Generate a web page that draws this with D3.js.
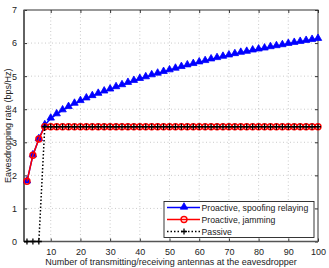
<!DOCTYPE html>
<html><head><meta charset="utf-8">
<script src="https://cdn.jsdelivr.net/npm/d3@7"></script>
<style>body{margin:0;background:#fff}svg{display:block}text{font-family:"Liberation Sans",Arial,sans-serif}</style>
</head><body>
<script>
const antennas = [2,4,6,8,10,12,14,16,18,20,22,24,26,28,30,32,34,36,38,40,42,44,46,48,50,52,54,56,58,60,62,64,66,68,70,72,74,76,78,80,82,84,86,88,90,92,94,96,98,100];
const spoofing = [1.82,2.61,3.10,3.52,3.72,3.85,3.97,4.07,4.17,4.25,4.33,4.40,4.47,4.54,4.60,4.67,4.73,4.80,4.86,4.92,4.97,5.03,5.08,5.13,5.18,5.23,5.28,5.33,5.37,5.42,5.46,5.51,5.55,5.59,5.63,5.67,5.71,5.74,5.78,5.81,5.84,5.88,5.91,5.94,5.98,6.01,6.04,6.07,6.10,6.13];
const jamming = [1.82,2.61,3.10,3.47,3.47,3.47,3.47,3.47,3.47,3.47,3.47,3.47,3.47,3.47,3.47,3.47,3.47,3.47,3.47,3.47,3.47,3.47,3.47,3.47,3.47,3.47,3.47,3.47,3.47,3.47,3.47,3.47,3.47,3.47,3.47,3.47,3.47,3.47,3.47,3.47,3.47,3.47,3.47,3.47,3.47,3.47,3.47,3.47,3.47,3.47];
const passive = [0,0,0,3.47,3.47,3.47,3.47,3.47,3.47,3.47,3.47,3.47,3.47,3.47,3.47,3.47,3.47,3.47,3.47,3.47,3.47,3.47,3.47,3.47,3.47,3.47,3.47,3.47,3.47,3.47,3.47,3.47,3.47,3.47,3.47,3.47,3.47,3.47,3.47,3.47,3.47,3.47,3.47,3.47,3.47,3.47,3.47,3.47,3.47,3.47];
const xTicks = [10,20,30,40,50,60,70,80,90,100];
const yTicks = [0,1,2,3,4,5,6,7];
const legendLabels = ["Proactive, spoofing relaying","Proactive, jamming","Passive"];
const xLabel = "Number of transmitting/receiving antennas at the eavesdropper";
const yLabel = "Eavesdropping rate (bps/Hz)";

const W=329,H=268, L=24, R=318, T=10, B=241.5;
const FS="9px";
const svg=d3.select("body").append("svg").attr("width",W).attr("height",H);
const x=d3.scaleLinear().domain([1,100]).range([L,R]);
const y=d3.scaleLinear().domain([0,7]).range([B,T]);

// grid
const g=svg.append("g");
g.selectAll(".gx").data(xTicks.filter(v=>v<100)).join("line")
 .attr("x1",d=>x(d)).attr("x2",d=>x(d)).attr("y1",T).attr("y2",B)
 .attr("stroke","#bdbdbd").attr("stroke-width",0.8).attr("stroke-dasharray","1,2.5");
g.selectAll(".gy").data(yTicks.filter(v=>v>0&&v<7)).join("line")
 .attr("x1",L).attr("x2",R).attr("y1",d=>y(d)).attr("y2",d=>y(d))
 .attr("stroke","#bdbdbd").attr("stroke-width",0.8).attr("stroke-dasharray","1,2.5");

// axes
const fmt=d3.format("d");
const xb=d3.axisBottom(x).tickValues(xTicks).tickFormat(fmt).tickSizeInner(-3).tickSizeOuter(0).tickPadding(7);
const xt=d3.axisTop(x).tickValues(xTicks).tickSizeInner(-3).tickSizeOuter(0).tickFormat("");
const yl=d3.axisLeft(y).tickValues(yTicks).tickFormat(fmt).tickSizeInner(-3).tickSizeOuter(0).tickPadding(7);
const yr=d3.axisRight(y).tickValues(yTicks).tickSizeInner(-3).tickSizeOuter(0).tickFormat("");
function style(sel){sel.selectAll("path").remove();sel.selectAll("line").attr("stroke","#333");sel.selectAll("text").attr("font-size",FS).attr("fill","#222").attr("font-family","'Liberation Sans',Arial,sans-serif");}
svg.append("g").attr("transform",`translate(0,${B})`).call(xb).call(style);
svg.append("g").attr("transform",`translate(0,${T})`).call(xt).call(style);
svg.append("g").attr("transform",`translate(${L},0)`).call(yl).call(style);
svg.append("g").attr("transform",`translate(${R},0)`).call(yr).call(style);
svg.append("rect").attr("x",L).attr("y",T).attr("width",R-L).attr("height",B-T).attr("fill","none").attr("stroke","#333").attr("stroke-width",1);
svg.append("line").attr("x1",L).attr("x2",L).attr("y1",T).attr("y2",B).attr("stroke","#555").attr("stroke-width",1.6);
svg.append("line").attr("x1",L).attr("x2",R).attr("y1",B).attr("y2",B).attr("stroke","#555").attr("stroke-width",1.6);

const line=d3.line().x(d=>x(d[0])).y(d=>y(d[1]));
const tri=d3.symbol().type(d3.symbolTriangle).size(24);
function plusPath(cx,cy,s){return `M${cx-s},${cy}H${cx+s}M${cx},${cy-s}V${cy+s}`;}

// spoofing
const sData=antennas.map((a,i)=>[a,spoofing[i]]);
svg.append("path").attr("d",line(sData)).attr("fill","none").attr("stroke","#0000ff").attr("stroke-width",1.5);
svg.append("g").selectAll("path").data(sData).join("path")
 .attr("transform",d=>`translate(${x(d[0])},${y(d[1])-0.5})`).attr("d",tri())
 .attr("fill","#0000ff").attr("stroke","#0000ff").attr("stroke-width",0.8);
// jamming
const jData=antennas.map((a,i)=>[a,jamming[i]]);
svg.append("path").attr("d",line(jData)).attr("fill","none").attr("stroke","#ff0000").attr("stroke-width",1.5);
svg.append("g").selectAll("circle").data(jData).join("circle")
 .attr("cx",d=>x(d[0])).attr("cy",d=>y(d[1])).attr("r",3)
 .attr("fill","none").attr("stroke","#ff0000").attr("stroke-width",1.4);
// passive
const pData=antennas.map((a,i)=>[a,passive[i]]);
svg.append("path").attr("d",line(pData)).attr("fill","none").attr("stroke","#000").attr("stroke-width",1.5).attr("stroke-dasharray","1.5,2");
svg.append("g").selectAll("path").data(pData).join("path")
 .attr("d",d=>plusPath(x(d[0]),y(d[1]),3)).attr("stroke","#000").attr("stroke-width",1.3).attr("fill","none");

// labels
svg.append("text").attr("x",(L+R)/2).attr("y",265).attr("text-anchor","middle").attr("font-size",FS).attr("fill","#222").text(xLabel);
svg.append("text").attr("transform",`translate(8,${(T+B)/2}) rotate(-90)`).attr("text-anchor","middle").attr("dominant-baseline","central").attr("font-size",FS).attr("fill","#222").text(yLabel);

// legend
const lg=svg.append("g");
lg.append("rect").attr("x",164).attr("y",201.5).attr("width",150).attr("height",36).attr("fill","#fff").attr("stroke","#222").attr("stroke-width",0.9);
const rows=[207.5,219.5,231.5];
const cols=["#0000ff","#ff0000","#000"];
rows.forEach((ry,i)=>{
  const ln=lg.append("line").attr("x1",167).attr("x2",200).attr("y1",ry).attr("y2",ry).attr("stroke",cols[i]).attr("stroke-width",1.5);
  if(i===2) ln.attr("stroke-dasharray","1.5,2");
  if(i===0) lg.append("path").attr("transform",`translate(184,${ry-0.5})`).attr("d",tri()).attr("fill","#0000ff").attr("stroke","#0000ff").attr("stroke-width",0.8);
  if(i===1) lg.append("circle").attr("cx",184).attr("cy",ry).attr("r",3).attr("fill","none").attr("stroke","#ff0000").attr("stroke-width",1.4);
  if(i===2) lg.append("path").attr("d",plusPath(184,ry,3)).attr("stroke","#000").attr("stroke-width",1.3);
  lg.append("text").attr("x",201.5).attr("y",ry+3.2).attr("font-size","8.7px").attr("fill","#222").text(legendLabels[i]);
});
</script>
</body></html>
